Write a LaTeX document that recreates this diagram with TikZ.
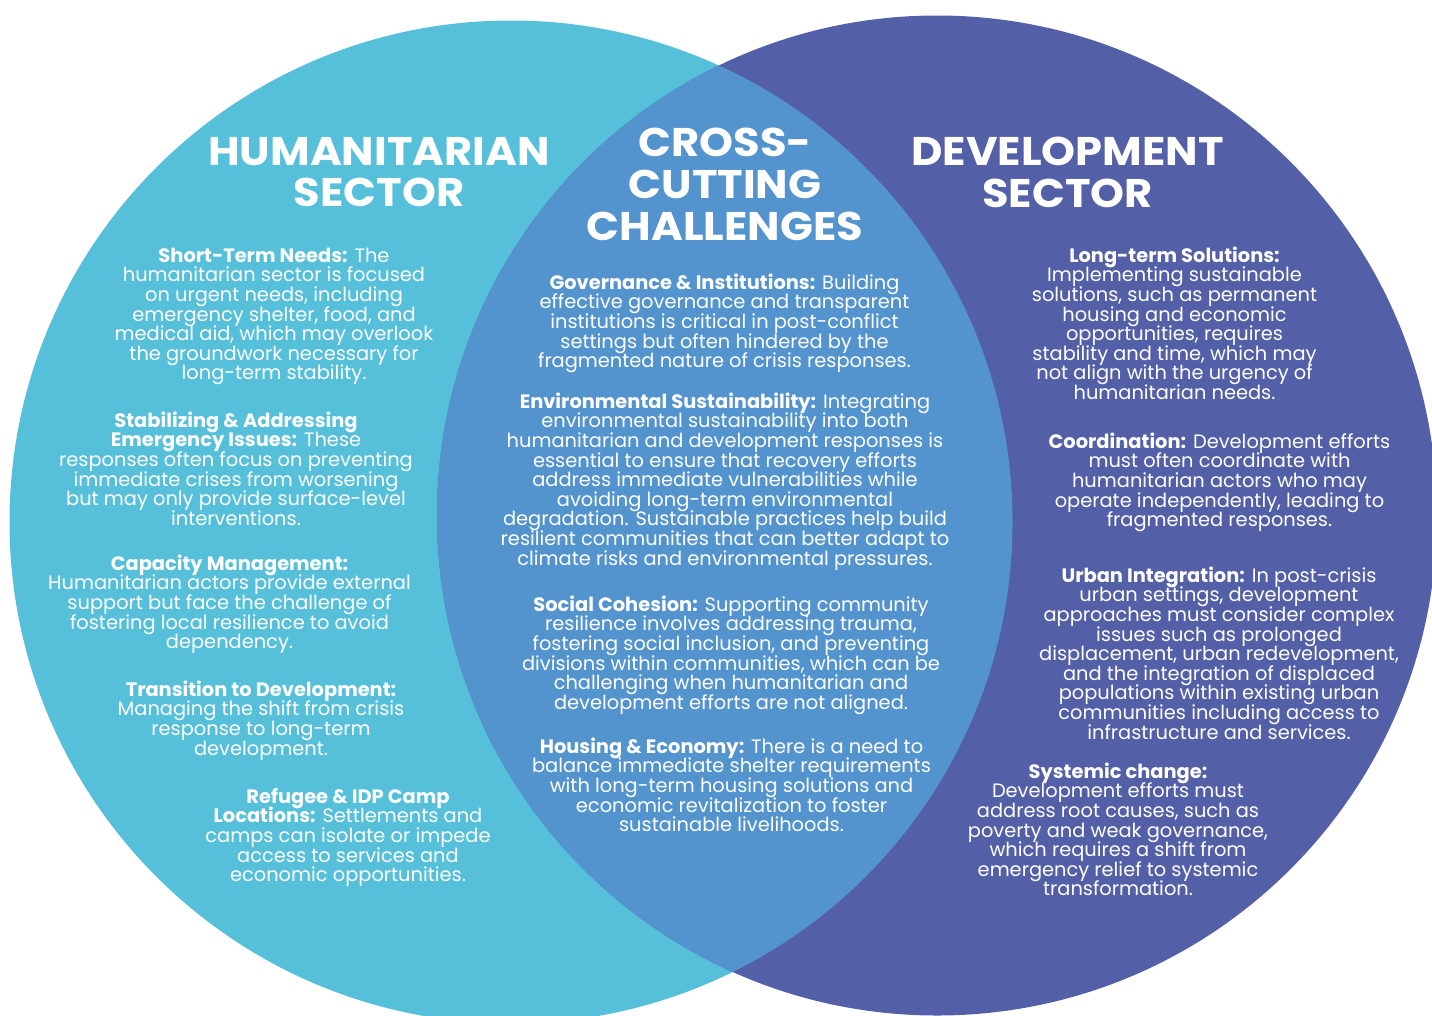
\documentclass[tikz,border=0pt]{standalone}
\usepackage{fontspec}
\setmainfont{Poppins}
\newfontfamily\titlefam[FakeStretch=1.08]{Poppins}
\definecolor{humcol}{RGB}{86,191,218}
\definecolor{crosscol}{RGB}{83,148,206}
\definecolor{devcol}{RGB}{83,96,167}
\newcommand{\bodyfont}{\fontsize{19.4}{19.6}\selectfont\lineskiplimit=-20pt\lineskip=0pt\relax}
\newcommand{\titlefont}{\titlefam\fontsize{40}{41.8}\selectfont\bfseries}
\newcommand{\fst}{\rule{0pt}{16pt}}
\tikzset{
  body/.style={align=center, anchor=north, inner sep=0pt, text=white, font=\bodyfont},
  ttl/.style={align=center, anchor=center, inner sep=0pt, text=white, font=\titlefont}
}
\begin{document}
\begin{tikzpicture}[x=1pt,y=-1pt]
\useasboundingbox (0,0) rectangle (1432,1015);
\clip (0,0) rectangle (1432,1015);
\fill[humcol] (511,522) circle[radius=501.5pt];
\fill[devcol] (937,515.5) circle[radius=500pt];
\begin{scope}
  \clip (511,522) circle[radius=501.5pt];
  \fill[crosscol] (937,515.5) circle[radius=500pt];
\end{scope}

\node[ttl] (humtitle) at (379,172) {HUMANITARIAN\\SECTOR};
\node[ttl] (crosstitle) at (725,184.5) {CROSS-\\CUTTING\\CHALLENGES};
\node[ttl] (devtitle) at (1067.5,172) {DEVELOPMENT\\SECTOR};

\node[body] (shortterm) at (274,246) {\fst{\bfseries Short-Term Needs:} The\\humanitarian sector is focused\\on urgent needs, including\\emergency shelter, food, and\\medical aid, which may overlook\\the groundwork necessary for\\long-term stability.};
\node[body] (stabil) at (236,411) {\fst{\bfseries Stabilizing \& Addressing}\\{\bfseries Emergency Issues:} These\\responses often focus on preventing\\immediate crises from worsening\\but may only provide surface-level\\interventions.};
\node[body] (capacity) at (229.5,554) {\fst{\bfseries Capacity Management:}\\Humanitarian actors provide external\\support but face the challenge of\\fostering local resilience to avoid\\dependency.};
\node[body] (transition) at (261,680) {\fst{\bfseries Transition to Development:}\\Managing the shift from crisis\\response to long-term\\development.};
\node[body] (refugee) at (348,787) {\fst{\bfseries Refugee \& IDP Camp}\\{\bfseries Locations:} Settlements and\\camps can isolate or impede\\access to services and\\economic opportunities.};

\node[body] (governance) at (724.5,273) {\fst{\bfseries Governance \& Institutions:} Building\\effective governance and transparent\\institutions is critical in post-conflict\\settings but often hindered by the\\fragmented nature of crisis responses.};
\node[body] (environ) at (725,392) {\fst{\bfseries Environmental Sustainability:} Integrating\\environmental sustainability into both\\humanitarian and development responses is\\essential to ensure that recovery efforts\\address immediate vulnerabilities while\\avoiding long-term environmental\\degradation. Sustainable practices help build\\resilient communities that can better adapt to\\climate risks and environmental pressures.};
\node[body] (social) at (731,595) {\fst{\bfseries Social Cohesion:} Supporting community\\resilience involves addressing trauma,\\fostering social inclusion, and preventing\\divisions within communities, which can be\\challenging when humanitarian and\\development efforts are not aligned.};
\node[body] (housing) at (731.5,737) {\fst{\bfseries Housing \& Economy:} There is a need to\\balance immediate shelter requirements\\with long-term housing solutions and\\economic revitalization to foster\\sustainable livelihoods.};

\node[body] (longterm) at (1174.5,246) {\fst{\bfseries Long-term Solutions:}\\Implementing sustainable\\solutions, such as permanent\\housing and economic\\opportunities, requires\\stability and time, which may\\not align with the urgency of\\humanitarian needs.};
\node[body] (coord) at (1219.5,432) {\fst{\bfseries Coordination:} Development efforts\\must often coordinate with\\humanitarian actors who may\\operate independently, leading to\\fragmented responses.};
\node[body] (urban) at (1219,566) {\fst{\bfseries Urban Integration:} In post-crisis\\urban settings, development\\approaches must consider complex\\issues such as prolonged\\displacement, urban redevelopment,\\and the integration of displaced\\populations within existing urban\\communities including access to\\infrastructure and services.};
\node[body] (systemic) at (1118,762) {\fst{\bfseries Systemic change:}\\Development efforts must\\address root causes, such as\\poverty and weak governance,\\which requires a shift from\\emergency relief to systemic\\transformation.};
\end{tikzpicture}
\end{document}
